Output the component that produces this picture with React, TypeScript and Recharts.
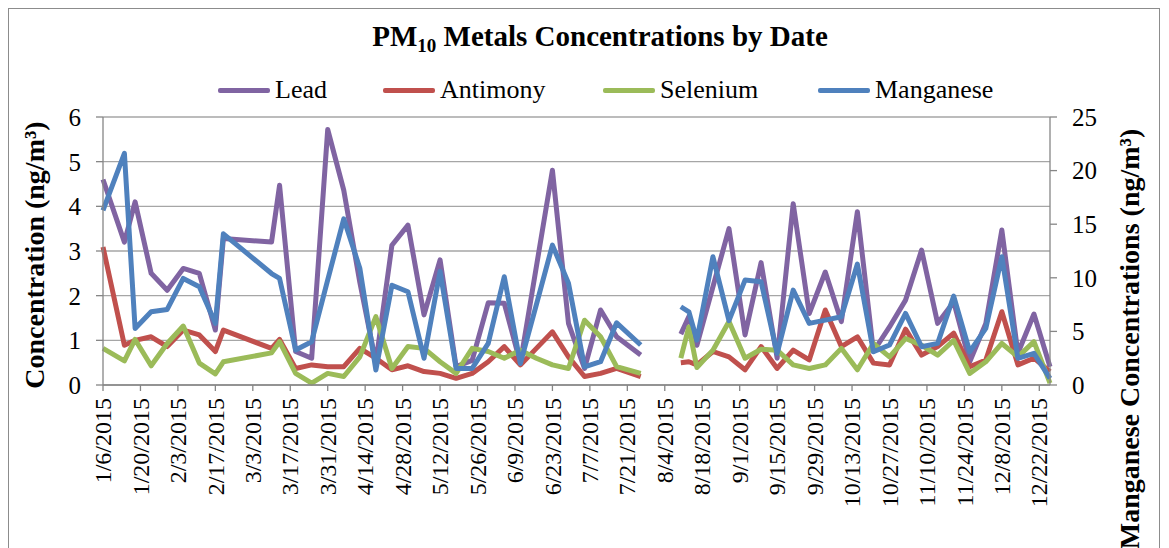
import { LineChart, Line, XAxis, YAxis, CartesianGrid } from "recharts";

// sampling dates (8/1 is an empty row so the line breaks over the gap)
const dates = [
    "1/6/2015", "1/14/2015", "1/18/2015", "1/24/2015", "1/30/2015", "2/5/2015", "2/11/2015", "2/17/2015",
    "2/20/2015", "3/10/2015", "3/13/2015", "3/19/2015", "3/25/2015", "3/31/2015", "4/6/2015", "4/12/2015",
    "4/18/2015", "4/24/2015", "4/30/2015", "5/6/2015", "5/12/2015", "5/18/2015", "5/24/2015", "5/30/2015",
    "6/5/2015", "6/11/2015", "6/17/2015", "6/23/2015", "6/29/2015", "7/5/2015", "7/11/2015", "7/17/2015",
    "7/26/2015", "8/1/2015", "8/10/2015", "8/13/2015", "8/16/2015", "8/22/2015", "8/28/2015", "9/3/2015",
    "9/9/2015", "9/15/2015", "9/21/2015", "9/27/2015", "10/3/2015", "10/9/2015", "10/15/2015", "10/21/2015",
    "10/27/2015", "11/2/2015", "11/8/2015", "11/14/2015", "11/20/2015", "11/26/2015", "12/2/2015", "12/8/2015",
    "12/14/2015", "12/20/2015", "12/26/2015",
];

const lead = [
    4.6, 3.2, 4.1, 2.5, 2.12, 2.61, 2.5, 1.23,
    3.28, 3.2, 4.47, 0.75, 0.6, 5.72, 4.36, 2.3,
    0.5, 3.13, 3.58, 1.57, 2.8, 0.41, 0.55, 1.84,
    1.83, 0.49, 2.65, 4.81, 1.38, 0.37, 1.68, 1.08,
    0.67, null, 1.14, 1.53, 0.89, 2.2, 3.5, 1.12,
    2.74, 0.6, 4.06, 1.6, 2.53, 1.42, 3.88, 0.75,
    1.3, 1.9, 3.02, 1.38, 1.86, 0.52, 1.38, 3.47,
    0.71, 1.59, 0.41,
];

const antimony = [
    3.09, 0.89, 1.0, 1.08, 0.86, 1.23, 1.12, 0.75,
    1.23, 0.82, 1.02, 0.37, 0.45, 0.41, 0.41, 0.82,
    0.6, 0.34, 0.43, 0.3, 0.26, 0.15, 0.26, 0.52,
    0.86, 0.45, 0.82, 1.19, 0.63, 0.19, 0.26, 0.37,
    0.19, null, 0.5, 0.52, 0.45, 0.75, 0.63, 0.34,
    0.86, 0.37, 0.78, 0.56, 1.68, 0.86, 1.08, 0.49,
    0.45, 1.25, 0.67, 0.86, 1.16, 0.41, 0.56, 1.64,
    0.45, 0.6, 0.3,
];

const selenium = [
    0.82, 0.54, 1.02, 0.43, 0.93, 1.32, 0.49, 0.25,
    0.52, 0.72, 0.97, 0.26, 0.04, 0.26, 0.19, 0.63,
    1.53, 0.37, 0.86, 0.82, 0.52, 0.26, 0.82, 0.75,
    0.6, 0.78, 0.6, 0.45, 0.37, 1.45, 1.08, 0.41,
    0.26, null, 0.6, 1.3, 0.39, 0.78, 1.42, 0.6,
    0.8, 0.78, 0.45, 0.37, 0.45, 0.82, 0.34, 0.93,
    0.63, 1.04, 0.89, 0.67, 1.0, 0.26, 0.52, 0.93,
    0.63, 0.97, 0.04,
];

const manganese = [
    16.3, 21.6, 5.28, 6.83, 7.05, 9.94, 9.16, 5.75,
    14.1, 10.4, 9.94, 3.26, 4.04, 9.8, 15.5, 10.9,
    1.4, 9.3, 8.7, 2.5, 10.6, 1.55, 1.55, 3.88,
    10.1, 2.0, 7.5, 13.05, 9.5, 1.7, 2.17, 5.8,
    3.73, null, 7.3, 6.83, 4.19, 11.96, 6.0, 9.79,
    9.63, 2.95, 8.85, 5.75, 6.05, 6.37, 11.28, 3.1,
    3.73, 6.68, 3.57, 3.88, 8.29, 3.1, 5.28, 11.96,
    2.49, 2.95, 0.62,
];

const leftTicks = [0, 1, 2, 3, 4, 5, 6];
const rightTicks = [0, 5, 10, 15, 20, 25];

const series = [
    { key: "lead", name: "Lead", color: "#8064A2", axis: "left" },
    { key: "antimony", name: "Antimony", color: "#C0504D", axis: "left" },
    { key: "selenium", name: "Selenium", color: "#9BBB59", axis: "left" },
    { key: "manganese", name: "Manganese", color: "#4F81BD", axis: "right" },
];

const START = Date.UTC(2015, 0, 6);
const DAY = 86400000;

const toDay = (s: string) => {
    const [m, d, y] = s.split("/").map(Number);
    return Math.round((Date.UTC(y, m - 1, d) - START) / DAY);
};

const fmtDay = (day: number) => {
    const dt = new Date(START + day * DAY);
    return `${dt.getUTCMonth() + 1}/${dt.getUTCDate()}/${dt.getUTCFullYear()}`;
};

const lastDay = toDay(dates[dates.length - 1]);
const xTicks: number[] = [];
for (let d = 0; d <= lastDay; d += 14) xTicks.push(d);

const data = dates.map((s, i) => ({
    day: toDay(s),
    lead: lead[i],
    antimony: antimony[i],
    selenium: selenium[i],
    manganese: manganese[i],
}));

const FONT = "'Liberation Serif', 'Times New Roman', serif";
const AXIS = "#868686";

const DateTick = ({ x, y, payload }: any) => (
    <text
        x={x}
        y={y}
        transform={`rotate(-90 ${x} ${y})`}
        textAnchor="end"
        dy="0.34em"
        fontSize={24}
        fontFamily={FONT}
        fill="#000"
    >
        {fmtDay(payload.value)}
    </text>
);

const legendX = [218, 383, 603, 818];

export default function App() {
    return (
        <div style={{ position: "absolute", left: 0, top: 0, width: 1169, height: 548, overflow: "hidden", background: "#fff" }}>
            <style>{`body{margin:0;overflow:hidden}`}</style>
            <div
                style={{
                    position: "absolute",
                    left: 8,
                    top: 8,
                    width: 1152,
                    height: 560,
                    border: "1px solid #8c8c8c",
                    boxSizing: "border-box",
                }}
            />
            <div
                style={{
                    position: "absolute",
                    left: 300,
                    width: 600,
                    top: 18,
                    textAlign: "center",
                    fontFamily: FONT,
                    fontWeight: "bold",
                    fontSize: 29,
                    lineHeight: "36px",
                    whiteSpace: "nowrap",
                }}
            >
                PM<span style={{ fontSize: 19, position: "relative", top: 6 }}>10</span> Metals Concentrations by Date
            </div>
            {series.map((s, i) => (
                <div
                    key={s.key}
                    style={{
                        position: "absolute",
                        left: legendX[i],
                        top: 74,
                        height: 32,
                        display: "flex",
                        alignItems: "center",
                        fontFamily: FONT,
                        fontSize: 26,
                        whiteSpace: "nowrap",
                    }}
                >
                    <span style={{ display: "inline-block", width: 52, height: 5, borderRadius: 2, background: s.color, marginRight: 5 }} />
                    {s.name}
                </div>
            ))}
            <div style={{ position: "absolute", left: 8, top: 8 }}>
                <LineChart
                    width={1153}
                    height={540}
                    data={data}
                    margin={{ top: 109, right: 51, left: 35, bottom: 0 }}
                >
                    <CartesianGrid yAxisId="left" vertical={false} stroke="#a6a6a6" strokeWidth={1.3} />
                    <XAxis
                        dataKey="day"
                        type="number"
                        domain={[0, lastDay]}
                        ticks={xTicks}
                        interval={0}
                        height={163}
                        tick={<DateTick />}
                        tickSize={6}
                        tickMargin={7}
                        axisLine={{ stroke: AXIS, strokeWidth: 1.3 }}
                        tickLine={{ stroke: AXIS, strokeWidth: 1.3 }}
                    />
                    <YAxis
                        yAxisId="left"
                        domain={[0, 6]}
                        ticks={leftTicks}
                        interval={0}
                        width={60}
                        tickSize={7}
                        tickMargin={15}
                        tick={{ fontSize: 25, fill: "#000", fontFamily: FONT }}
                        axisLine={{ stroke: AXIS, strokeWidth: 1.3 }}
                        tickLine={{ stroke: AXIS, strokeWidth: 1.3 }}
                        label={({ viewBox }: any) => {
                            const cx = viewBox.x - 8 + 9;
                            const cy = viewBox.y + viewBox.height / 2 + 4;
                            return (
                                <text
                                    x={cx}
                                    y={cy}
                                    transform={`rotate(-90 ${cx} ${cy})`}
                                    textAnchor="middle"
                                    fontSize={28}
                                    fontWeight="bold"
                                    fontFamily={FONT}
                                    fill="#000"
                                >
                                    Concentration (ng/m³)
                                </text>
                            );
                        }}
                    />
                    <YAxis
                        yAxisId="right"
                        orientation="right"
                        domain={[0, 25]}
                        ticks={rightTicks}
                        interval={0}
                        width={60}
                        tickSize={7}
                        tickMargin={15}
                        tick={{ fontSize: 25, fill: "#000", fontFamily: FONT }}
                        axisLine={{ stroke: AXIS, strokeWidth: 1.3 }}
                        tickLine={{ stroke: AXIS, strokeWidth: 1.3 }}
                        label={({ viewBox }: any) => {
                            const cx = 1122 + 9;
                            const cy = viewBox.y + viewBox.height / 2 + 88;
                            return (
                                <text
                                    x={cx}
                                    y={cy}
                                    transform={`rotate(-90 ${cx} ${cy})`}
                                    textAnchor="middle"
                                    fontSize={28}
                                    fontWeight="bold"
                                    fontFamily={FONT}
                                    fill="#000"
                                >
                                    Manganese Concentrations (ng/m³)
                                </text>
                            );
                        }}
                    />
                    {series.map((s) => (
                        <Line
                            key={s.key}
                            yAxisId={s.axis}
                            type="linear"
                            dataKey={s.key}
                            name={s.name}
                            stroke={s.color}
                            strokeWidth={5}
                            strokeLinejoin="round"
                            dot={false}
                            activeDot={false}
                            isAnimationActive={false}
                        />
                    ))}
                </LineChart>
            </div>
        </div>
    );
}
